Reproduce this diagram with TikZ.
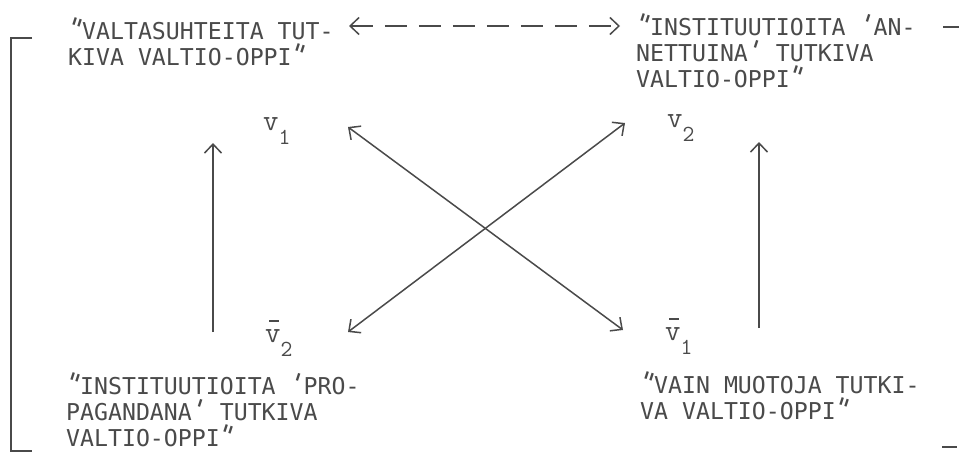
\documentclass[tikz,border=0pt]{standalone}
\usepackage{fontspec}
\newfontfamily\typew{DejaVu Sans Mono}
\usetikzlibrary{arrows.meta}
\definecolor{ink}{HTML}{4A4A4A}
\newcommand\vsym[1]{{\ttfamily\fontsize{30}{30}\selectfont v}\raisebox{-14pt}{\ttfamily\fontsize{23}{23}\selectfont #1}}
\newcommand\vbarsym[1]{\rlap{\hspace{4pt}\raisebox{20pt}{\color{ink}\rule{10pt}{1.6pt}}}\vsym{#1}}
\newcommand\dq{\makebox[0.602em]{\scalebox{1.2}{\rotatebox[origin=c]{-18}{"}}}}
\newcommand\sq{\makebox[0.602em]{\scalebox{1.2}{\rotatebox[origin=c]{-18}{'}}}}
\tikzset{
  mybarb/.tip={Straight Barb[length=9pt,width=17pt,line width=1.5pt]},
  txt/.style={anchor=base west, inner sep=0pt, align=left, text=ink,
              font=\typew\fontsize{23.2}{26}\selectfont},
  var/.style={anchor=base west, inner sep=0pt, text=ink},
  arr/.style={draw=ink, line width=1.5pt, -{mybarb}},
  darr/.style={draw=ink, line width=1.5pt, {mybarb}-{mybarb}},
  dasharr/.style={darr, dash pattern=on 22pt off 12pt},
  brk/.style={draw=ink, line width=1.8pt}
}
\begin{document}
\begin{tikzpicture}[x=1pt,y=-1pt]
\useasboundingbox (0,0) rectangle (959,453);
\fill[white] (0,0) rectangle (959,453);
% texts (anchored at the baseline of their last line)
\node[txt] (tl) at (68,65) {\dq VALTASUHTEITA TUT-\\KIVA VALTIO-OPPI\dq};
\node[txt] (tr) at (636,87) {\dq INSTITUUTIOITA \sq AN-\\NETTUINA\sq{} TUTKIVA\\VALTIO-OPPI\dq};
\node[txt] (bl) at (66,446) {\dq INSTITUUTIOITA \sq PRO-\\PAGANDANA\sq{} TUTKIVA\\VALTIO-OPPI\dq};
\node[txt] (br) at (640,419) {\dq VAIN MUOTOJA TUTKI-\\VA VALTIO-OPPI\dq};
% variables
\node[var] (v1) at (263,130) {\vsym{1}};
\node[var] (v2) at (667,127) {\vsym{2}};
\node[var] (nv2) at (265,342) {\vbarsym{2}};
\node[var] (nv1) at (665,340) {\vbarsym{1}};
% arrow end points
\coordinate (ta) at (349,26);
\coordinate (tb) at (620,26);
\coordinate (lb) at (213,332);
\coordinate (lt) at (213,143);
\coordinate (rb) at (759,328);
\coordinate (rt) at (759,142);
\coordinate (d1a) at (348,127);
\coordinate (d1b) at (623,330);
\coordinate (d2a) at (348,332);
\coordinate (d2b) at (625,123);
% connectors
\draw[dasharr] (ta) -- (tb);
\draw[arr] (lb) -- (lt);
\draw[arr] (rb) -- (rt);
\draw[darr] (d1a) -- (d1b);
\draw[darr] (d2a) -- (d2b);
% bracket
\draw[brk] (32,38) -- (11,38) -- (11,451) -- (32,451);
\draw[brk] (943,27) -- (959,27);
\draw[brk] (942,447) -- (957,447);
\end{tikzpicture}
\end{document}
